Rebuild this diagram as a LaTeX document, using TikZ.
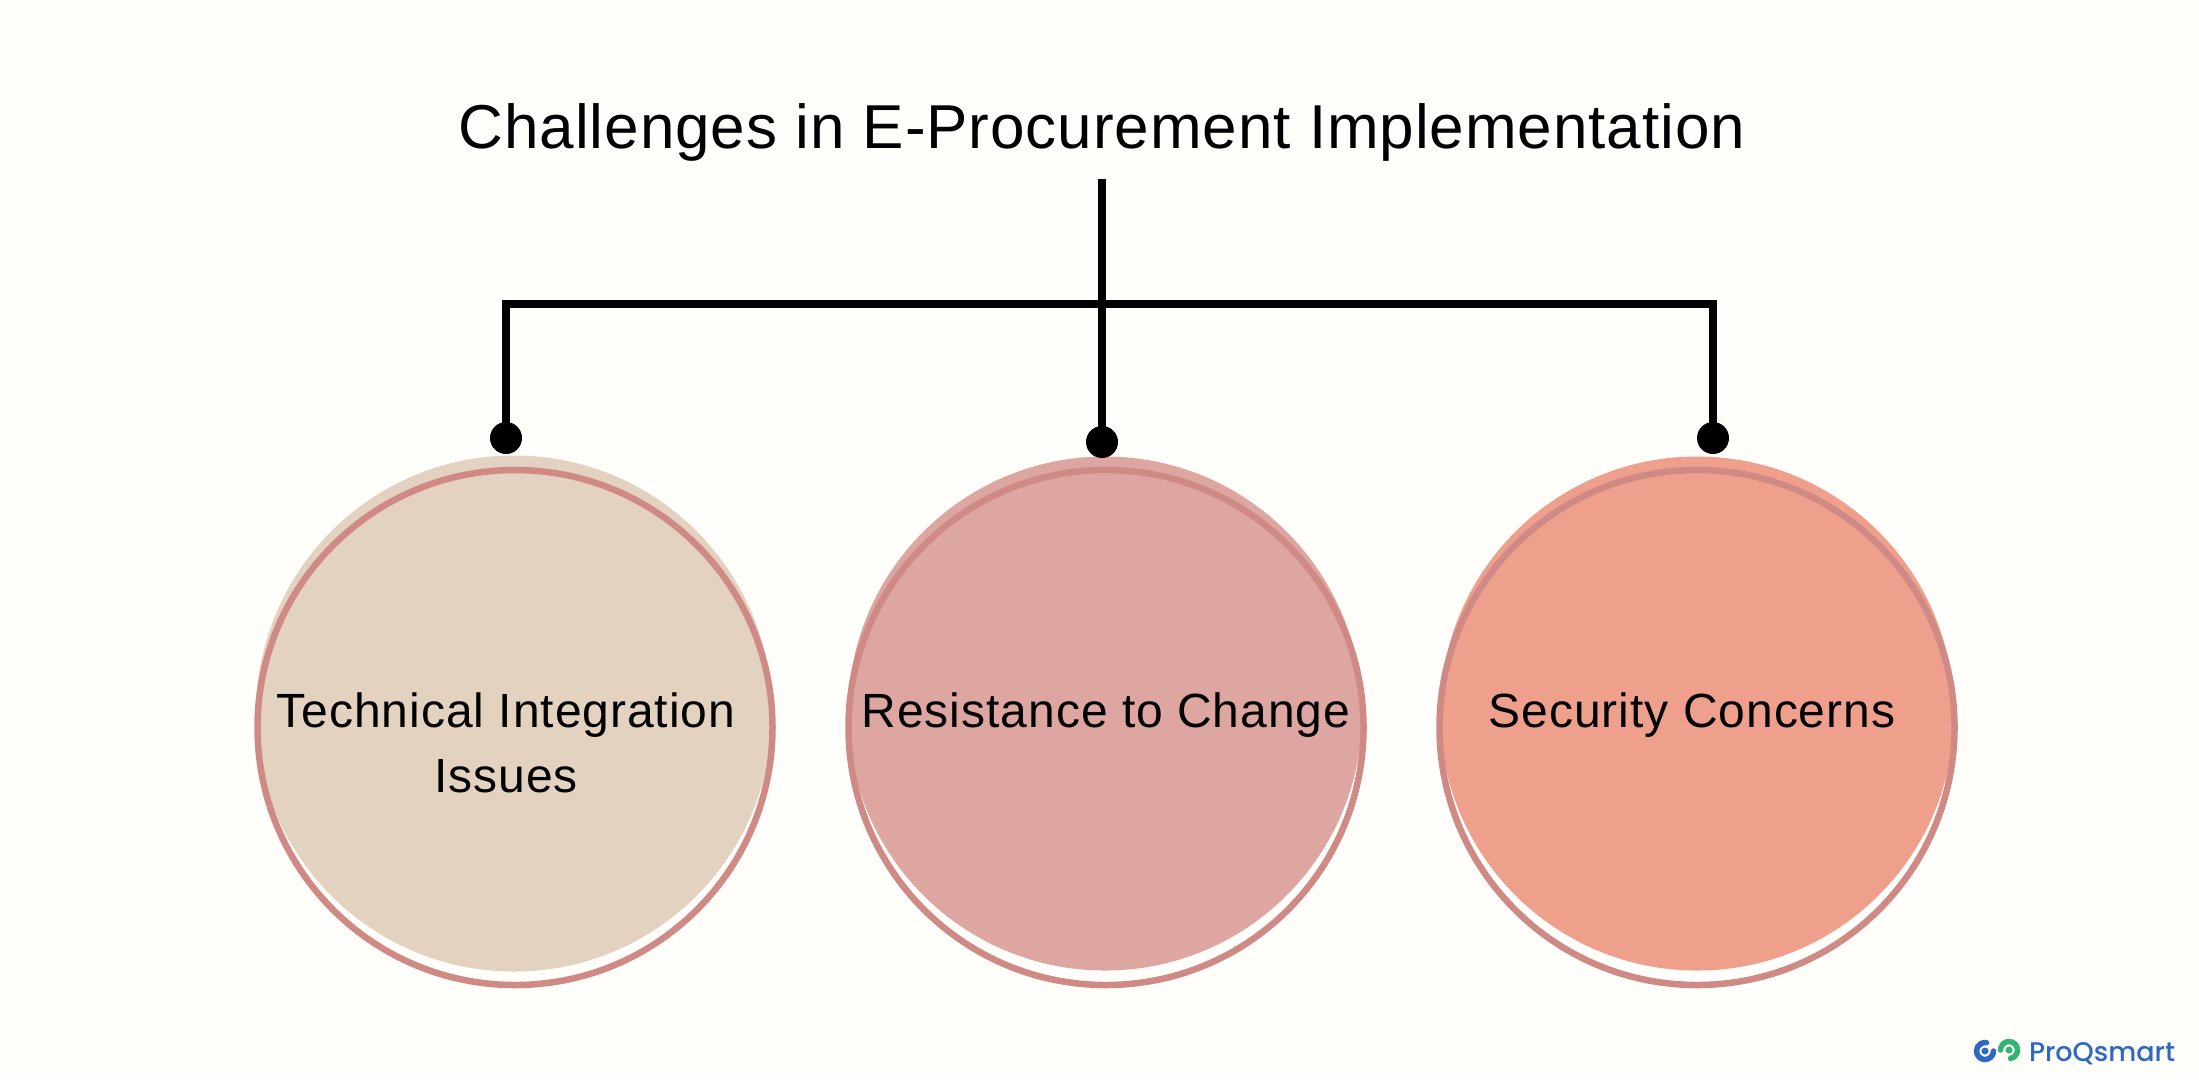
\documentclass[tikz,border=0pt]{standalone}
\usepackage{fontspec}
\setmainfont{Liberation Sans}
\newfontfamily\titlefont[LetterSpace=1.5]{Liberation Sans}
\newfontfamily\bodyfont[LetterSpace=2]{Liberation Sans}
\newfontfamily\logofont{Poppins Medium}
\definecolor{bgc}{HTML}{FFFEFB}
\definecolor{edgec}{HTML}{D08A85}
\definecolor{sandc}{HTML}{E3D2BF}
\definecolor{rosec}{HTML}{DDA6A1}
\definecolor{salmonc}{HTML}{EFA08D}
\definecolor{logoblue}{HTML}{2D69C0}
\definecolor{logogreen}{HTML}{2FB673}
\tikzset{
  x=1pt,y=-1pt,
  disc/.style={circle,draw=none,minimum size=#1,inner sep=0pt,outer sep=0pt},
  ring/.style={circle,draw=edgec,line width=6.5pt,fill=none,minimum size=515pt,inner sep=0pt,outer sep=0pt},
  knob/.style={circle,fill=black,minimum size=32pt,inner sep=0pt,outer sep=0pt},
  wire/.style={draw=black,line width=8.5pt,miter limit=10},
  bodylabel/.style={inner sep=0pt,outer sep=0pt,anchor=base,black,align=center,font=\fontsize{48}{65}\selectfont\bodyfont},
}
\begin{document}
\begin{tikzpicture}
\useasboundingbox[fill=bgc] (0,0) rectangle (2199,1080);
% filled discs
\node[disc=516pt,fill=sandc] (d1) at (514,713.5) {};
\node[disc=514pt,fill=rosec] (d2) at (1105,713.5) {};
\node[disc=514pt,fill=salmonc] (d3) at (1697,713.5) {};
% rings
\node[ring] (r1) at (515,727.5) {};
\node[ring] (r2) at (1106,727.5) {};
\node[ring] (r3) at (1697,727.5) {};
% connector
\coordinate (top) at (1102,179);
\node[knob] (k1) at (506,438) {};
\node[knob] (k2) at (1102,442) {};
\node[knob] (k3) at (1713,438) {};
\coordinate (barl) at (506,304);
\coordinate (barr) at (1713,304);
\draw[wire] (k1.center) -- (barl) -- (barr) -- (k3.center);
\draw[wire] (top) -- (k2.center);
% text
\node[inner sep=0pt,outer sep=0pt,anchor=base,font=\fontsize{62}{70}\selectfont\titlefont] (title) at (1102,148) {Challenges in E-Procurement Implementation};
\node[bodylabel] (t1) at (506,727) {Technical Integration};
\node[bodylabel] (t1b) at (506,792) {Issues};
\node[bodylabel] (t2) at (1106,727) {Resistance to Change};
\node[bodylabel] (t3) at (1692,727) {Security Concerns};
% logo
\draw[logoblue,line width=5.5pt,line cap=round] (1993.5,1051) arc (0:280:8.5);
\fill[logoblue] (1985,1051) circle (3.5);
\draw[logogreen,line width=5.5pt,line cap=round] (2000.5,1050) arc (180:440:8.5);
\fill[logogreen] (2009,1050) circle (3.5);
\node[inner sep=0pt,outer sep=0pt,anchor=base west,font=\fontsize{27}{30}\selectfont\logofont,text=logoblue] (logo) at (2029,1061) {ProQsmart};
\end{tikzpicture}
\end{document}
